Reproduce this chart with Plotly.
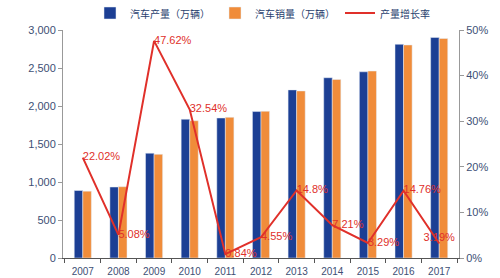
import plotly.graph_objects as go

years = ["2007", "2008", "2009", "2010", "2011", "2012", "2013", "2014", "2015", "2016", "2017"]
production = [888, 934, 1379, 1826, 1842, 1927, 2212, 2372, 2450, 2812, 2902]
sales = [879, 938, 1364, 1806, 1851, 1931, 2198, 2349, 2460, 2803, 2888]
growth = [22.02, 5.08, 47.62, 32.54, 0.84, 4.55, 14.8, 7.21, 3.29, 14.76, 3.19]
growth_labels = ["22.02%", "5.08%", "47.62%", "32.54%", "0.84%", "4.55%", "14.8%", "7.21%", "3.29%", "14.76%", "3.19%"]
left_ticks = [0, 500, 1000, 1500, 2000, 2500, 3000]
left_tick_text = ["0", "500", "1,000", "1,500", "2,000", "2,500", "3,000"]
right_ticks = [0, 10, 20, 30, 40, 50]
right_tick_text = ["0%", "10%", "20%", "30%", "40%", "50%"]

blue = "#1c3f94"
orange = "#f08c3a"
red = "#e0302a"
tickc = "#3d4f75"

fig = go.Figure()
fig.add_trace(go.Bar(x=years, y=production, name="汽车产量（万辆）", marker_color=blue))
fig.add_trace(go.Bar(x=years, y=sales, name="汽车销量（万辆）", marker_color=orange))
positions = ["middle right"] * len(years)
positions[-1] = "top center"
fig.add_trace(go.Scatter(x=years, y=growth, name="产量增长率", yaxis="y2", mode="lines+text",
                         line=dict(color=red, width=2), text=growth_labels,
                         textposition=positions, cliponaxis=False,
                         textfont=dict(color=red, size=11, family="Liberation Sans")))

fig.update_layout(
    width=500, height=278,
    margin=dict(l=63, r=41, t=30, b=20),
    paper_bgcolor="white", plot_bgcolor="white",
    barmode="group", bargap=0.52, bargroupgap=0,
    font=dict(family="Liberation Sans", color=tickc, size=11),
    legend=dict(orientation="h", xref="container", x=0.18, xanchor="left",
                yref="container", y=1.0, yanchor="top",
                font=dict(family="Noto Sans CJK SC", size=10, color="#2a3f6e"),
                itemwidth=30, tracegroupgap=0, bgcolor="rgba(0,0,0,0)",
                borderwidth=0, valign="top"),
    xaxis=dict(showline=True, linecolor="#555", ticks="outside", tickson="boundaries",
               ticklen=4, tickcolor="#555", tickfont=dict(size=10, color=tickc),
               automargin=False, ticklabelstandoff=4),
    yaxis=dict(range=[0, 3000], tickvals=left_ticks, ticktext=left_tick_text, showgrid=False,
               showline=True, linecolor="#999", ticks="outside", ticklen=4, tickcolor="#999",
               tickfont=dict(size=11, color=tickc), zeroline=False, automargin=False),
    yaxis2=dict(range=[0, 50], tickvals=right_ticks, ticktext=right_tick_text, overlaying="y",
                side="right", showgrid=False, showline=True, linecolor="#999", ticks="outside",
                ticklen=4, tickcolor="#999", tickfont=dict(size=11, color=tickc), zeroline=False,
                automargin=False),
)
fig.write_html("out.html")
